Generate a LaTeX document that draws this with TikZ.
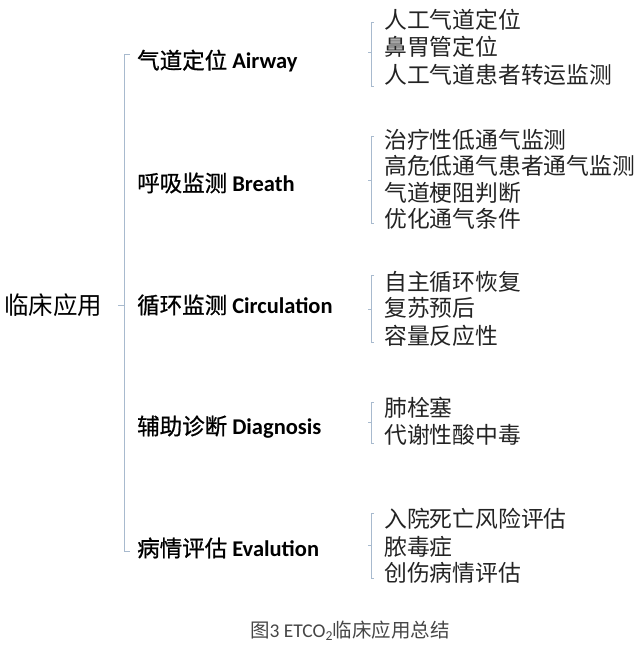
\documentclass[tikz,border=0pt]{standalone}
\usepackage{fontspec}
\setmainfont{Carlito}
\newfontfamily\cjk{Noto Sans CJK SC}
\newfontfamily\cjkm{Noto Sans CJK SC}[FakeBold=0.8]
\usepackage{tikz}
\usetikzlibrary{positioning,calc}
\definecolor{brkblue}{RGB}{168,186,206}
\definecolor{itemgray}{RGB}{35,35,35}
\definecolor{capgray}{RGB}{70,70,70}
\tikzset{cat/.style={anchor=west,inner sep=0pt,font=\fontsize{22.5}{22.5}\selectfont}}
\tikzset{item/.style={anchor=west,inner sep=0pt,text=itemgray,font=\cjk\fontsize{22.8}{22.8}\selectfont}}
\tikzset{brk/.style={draw=brkblue,line width=0.9pt}}

\begin{document}
\begin{tikzpicture}[x=1pt,y=-1pt]
    \useasboundingbox (0,0) rectangle (640,648);

    \node[anchor=west,inner sep=0pt,font=\cjk\fontsize{24.5}{24.5}\selectfont] (root) at (4,305) {临床应用};

    \foreach \y/\name/\zh/\en in {61/air/气道定位/Airway, 183/bre/呼吸监测/Breath, 305/cir/循环监测/Circulation, 427/dia/辅助诊断/Diagnosis, 548/eva/病情评估/Evalution}
        \node[cat] (\name) at (137,\y) {{\cjkm \zh} \textbf{\en}};

    % main bracket
    \coordinate (mtop) at (124,54);
    \coordinate (mbot) at (124,551);
    \coordinate (mmid) at (124,305);
    \draw[brk] ([xshift=6pt]mtop) -- (mtop) -- (mbot) -- ([xshift=6pt]mbot);
    \draw[brk] (mmid) -- ([xshift=-6pt]mmid);

    % item brackets
    \foreach \t/\m/\b in {22/52/86, 136/180/223, 275/309/342, 402/422/443, 513/545/578}{
        \draw[brk] (374,\t) -- (371,\t) -- (371,\b) -- (374,\b);
        \draw[brk] (371,\m) -- (368,\m);
    }

    \foreach \y/\name/\txt in {20/a1/人工气道定位, 47/a2/鼻胃管定位, 75/a3/人工气道患者转运监测,
        140/b1/治疗性低通气监测, 166/b2/高危低通气患者通气监测, 193/b3/气道梗阻判断, 219/b4/优化通气条件,
        282/c1/自主循环恢复, 308/c2/复苏预后, 336/c3/容量反应性,
        408/d1/肺栓塞, 435/d2/代谢性酸中毒,
        519/e1/入院死亡风险评估, 547/e2/脓毒症, 573/e3/创伤病情评估}
        \node[item] (\name) at (384,\y) {\txt};

    \node[text=capgray,font=\fontsize{19.5}{19.5}\selectfont] (cap) at (350,631) {{\cjk 图}3 ETCO\textsubscript{2}{\cjk 临床应用总结}};

\end{tikzpicture}
\end{document}
